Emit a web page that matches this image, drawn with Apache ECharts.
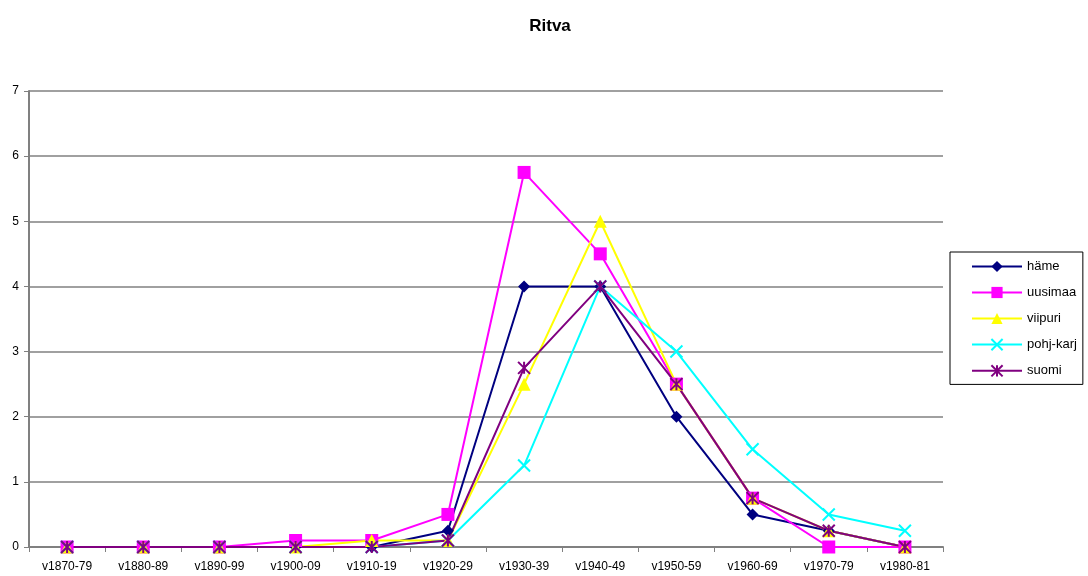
<!DOCTYPE html>
<html><head><meta charset="utf-8">
<script src="https://cdn.jsdelivr.net/npm/echarts@6/dist/echarts.min.js"></script>
<style>html,body{margin:0;padding:0;background:#fff}#c{width:1088px;height:576px}</style>
</head><body><div id="c"></div>
<script>
var categories = ['v1870-79','v1880-89','v1890-99','v1900-09','v1910-19','v1920-29','v1930-39','v1940-49','v1950-59','v1960-69','v1970-79','v1980-81'];
var hame     = [0,0,0,0,0,0.25,4,4,2,0.5,0.25,0];
var uusimaa  = [0,0,0,0.1,0.1,0.5,5.75,4.5,2.5,0.75,0,0];
var viipuri  = [0,0,0,0,0.1,0.1,2.5,5,2.5,0.75,0.25,0];
var pohjkarj = [0,0,0,0,0,0.1,1.25,4,3,1.5,0.5,0.25];
var suomi    = [0,0,0,0,0,0.1,2.75,4,2.5,0.75,0.25,0];
var yTicks = [0,1,2,3,4,5,6,7];

var FONT = 'Liberation Sans, Arial, sans-serif';
var xPath = 'path://M0 0L10 10M10 0L0 10';
var starPath = 'path://M0 0L10 10M10 0L0 10M5 0L5 10';

function mk(name, data, color, symbol, size, stroke) {
  return {
    name: name, type: 'line', data: data,
    symbol: symbol, symbolSize: size,
    lineStyle: {color: color, width: 2},
    itemStyle: stroke ? {color: 'rgba(0,0,0,0)', borderColor: color, borderWidth: 2} : {color: color, borderWidth: 0},
    emphasis: {disabled: true},
    animation: false
  };
}

var chart = echarts.init(document.getElementById('c'));
chart.setOption({
  animation: false,
  backgroundColor: '#fff',
  title: {text: 'Ritva', left: 545, top: 13, textAlign: 'center',
    textStyle: {fontFamily: FONT, fontSize: 17, fontWeight: 'bold', color: '#000'}},
  grid: {left: 29, right: 145, top: 91, bottom: 29, containLabel: false},
  legend: {
    orient: 'vertical', left: 950, top: 252,
    itemWidth: 50, itemHeight: 14, itemGap: 13,
    borderColor: '#000', borderWidth: 1, padding: [8, 6, 7, 21],
    textStyle: {fontFamily: FONT, fontSize: 13, color: '#000'},
    data: ['häme','uusimaa','viipuri','pohj-karj','suomi']
  },
  xAxis: {
    type: 'category', data: categories, boundaryGap: true,
    axisLine: {lineStyle: {color: '#808080', width: 2}},
    axisTick: {show: true, alignWithLabel: false, length: 5, lineStyle: {color: '#808080'}},
    axisLabel: {fontFamily: FONT, fontSize: 12, color: '#000', margin: 14, interval: 0}
  },
  yAxis: {
    type: 'value', min: 0, max: 7, interval: 1,
    axisLine: {show: true, lineStyle: {color: '#808080', width: 2}},
    axisTick: {show: true, length: 5, lineStyle: {color: '#808080'}},
    axisLabel: {fontFamily: FONT, fontSize: 12, color: '#000', margin: 10},
    splitLine: {show: true, lineStyle: {color: '#808080', width: 1.5}}
  },
  series: [
    mk('häme', hame, '#000080', 'diamond', 12, false),
    mk('uusimaa', uusimaa, '#FF00FF', 'rect', 13, false),
    mk('viipuri', viipuri, '#FFFF00', 'triangle', 13, false),
    mk('pohj-karj', pohjkarj, '#00FFFF', xPath, 12, true),
    mk('suomi', suomi, '#800080', starPath, 12, true)
  ]
});
</script></body></html>
